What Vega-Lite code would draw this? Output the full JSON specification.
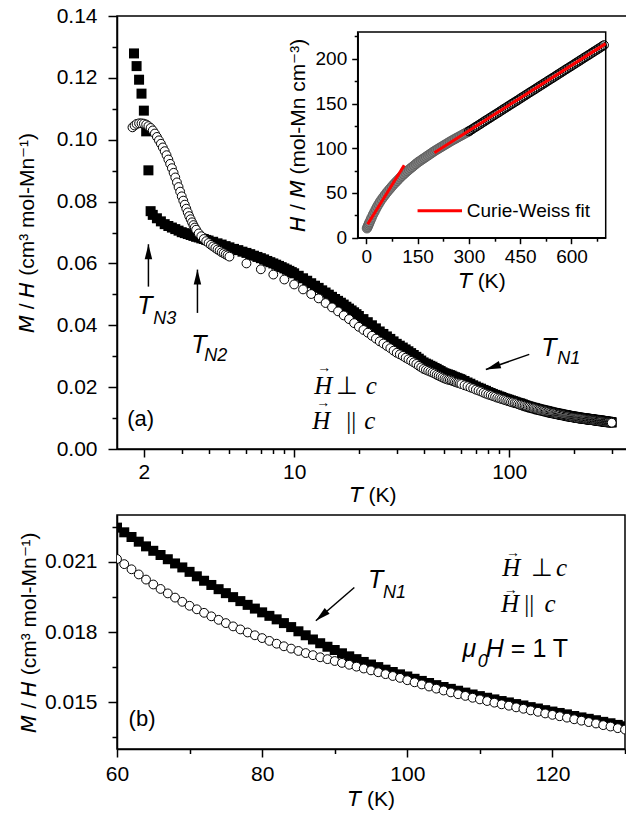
{
  "$schema": "https://vega.github.io/schema/vega-lite/v6.json",
  "background": "white",
  "padding": {"left": 15, "top": 4, "right": 0, "bottom": 0},
  "config": {
    "font": "Liberation Sans",
    "view": {"stroke": "black", "strokeWidth": 1.5},
    "axis": {
      "grid": false, "domainColor": "black", "domainWidth": 1.5, "tickColor": "black", "tickWidth": 1.5,
      "labelColor": "black", "titleColor": "black", "labelFont": "Liberation Sans", "titleFont": "Liberation Sans",
      "labelFontSize": 21, "titleFontSize": 21, "titleFontWeight": "normal", "labelFlush": false, "labelOverlap": false,
      "tickCount": 200
    }
  },
  "datasets": {
    "perp_a": [
      {"T":1.8,"v":0.1279},{"T":1.85,"v":0.1238},{"T":1.9,"v":0.1194},{"T":1.95,"v":0.1149},{"T":2.0,"v":0.1094},{"T":2.05,"v":0.1027},{"T":2.1,"v":0.0901},{"T":2.15,"v":0.0769},
      {"T":2.2,"v":0.0757},{"T":2.3,"v":0.0746},{"T":2.4,"v":0.0736},{"T":2.5,"v":0.0727},{"T":2.6,"v":0.0721},{"T":2.7,"v":0.0716},{"T":2.8,"v":0.0711},{"T":2.9,"v":0.0706},{"T":3.0,"v":0.0701},{"T":3.1,"v":0.0698},{"T":3.2,"v":0.0695},{"T":3.3,"v":0.0692},{"T":3.4,"v":0.0689},{"T":3.5,"v":0.0686},{"T":3.6,"v":0.0684},{"T":3.7,"v":0.0681},{"T":3.8,"v":0.0679},{"T":3.9,"v":0.0676},{"T":4.0,"v":0.0674},{"T":4.2,"v":0.067},{"T":4.4,"v":0.0665},{"T":4.6,"v":0.0661},{"T":4.8,"v":0.0656},
      {"T":5.0,"v":0.0652},{"T":5.25,"v":0.0647},{"T":5.5,"v":0.0643},{"T":5.75,"v":0.0638},{"T":6.0,"v":0.0634},{"T":6.25,"v":0.063},{"T":6.5,"v":0.0625},{"T":6.75,"v":0.0621},{"T":7.0,"v":0.0617},{"T":7.25,"v":0.0613},{"T":7.5,"v":0.0608},{"T":7.75,"v":0.0604},{"T":8.0,"v":0.06},{"T":8.25,"v":0.0596},{"T":8.5,"v":0.0592},{"T":8.75,"v":0.0588},{"T":9.0,"v":0.0584},{"T":9.25,"v":0.058},{"T":9.5,"v":0.0576},{"T":9.75,"v":0.0572},
      {"T":10,"v":0.0568},{"T":10.5,"v":0.056},{"T":11,"v":0.0552},{"T":11.5,"v":0.0544},{"T":12,"v":0.0536},{"T":12.5,"v":0.0528},{"T":13,"v":0.0521},{"T":13.5,"v":0.0513},{"T":14,"v":0.0506},{"T":14.5,"v":0.0499},{"T":15,"v":0.0492},{"T":15.5,"v":0.0485},{"T":16,"v":0.0479},{"T":16.5,"v":0.0473},{"T":17,"v":0.0467},{"T":17.5,"v":0.046},{"T":18,"v":0.0454},{"T":18.5,"v":0.0448},{"T":19,"v":0.0442},{"T":19.5,"v":0.0436},
      {"T":20,"v":0.043},{"T":21,"v":0.042},{"T":22,"v":0.041},{"T":23,"v":0.04},{"T":24,"v":0.039},{"T":25,"v":0.038},{"T":26,"v":0.0372},{"T":27,"v":0.0364},{"T":28,"v":0.0356},{"T":29,"v":0.0348},{"T":30,"v":0.034},{"T":31,"v":0.0334},{"T":32,"v":0.0328},{"T":33,"v":0.0322},{"T":34,"v":0.0316},{"T":35,"v":0.031},{"T":36,"v":0.0304},{"T":37,"v":0.0298},{"T":38,"v":0.0292},{"T":39,"v":0.0286},{"T":40,"v":0.028},{"T":41,"v":0.0276},{"T":42,"v":0.0273},{"T":43,"v":0.0269},{"T":44,"v":0.0266},{"T":45,"v":0.0262},{"T":46,"v":0.0259},{"T":47,"v":0.0255},{"T":48,"v":0.0252},{"T":49,"v":0.0248},{"T":50,"v":0.0245},{"T":51,"v":0.0243},{"T":52,"v":0.0241},{"T":53,"v":0.0239},{"T":54,"v":0.0237},{"T":55,"v":0.0234},{"T":56,"v":0.0232},{"T":57,"v":0.023},{"T":58,"v":0.0228},{"T":59,"v":0.0226},{"T":60,"v":0.0224},
      {"T":62,"v":0.022},{"T":64,"v":0.0215},{"T":66,"v":0.0211},{"T":68,"v":0.0206},{"T":70,"v":0.0202},{"T":72,"v":0.0198},{"T":74,"v":0.0195},{"T":76,"v":0.0191},{"T":78,"v":0.0188},{"T":80,"v":0.0184},{"T":82,"v":0.0181},{"T":84,"v":0.0178},{"T":86,"v":0.0175},{"T":88,"v":0.0173},{"T":90,"v":0.017},{"T":92,"v":0.0168},{"T":94,"v":0.0165},{"T":96,"v":0.0163},{"T":98,"v":0.0161},{"T":100,"v":0.0159},{"T":102,"v":0.0157},{"T":104,"v":0.0155},{"T":106,"v":0.0153},{"T":108,"v":0.0151},{"T":110,"v":0.0149},{"T":112,"v":0.0148},{"T":114,"v":0.0146},{"T":116,"v":0.0144},{"T":118,"v":0.0142},{"T":120,"v":0.014},
      {"T":122,"v":0.01385},{"T":124,"v":0.0137},{"T":126,"v":0.01355},{"T":128,"v":0.0134},{"T":130,"v":0.0133},{"T":132,"v":0.0132},{"T":134,"v":0.01305},{"T":136,"v":0.0129},{"T":138,"v":0.0128},{"T":140,"v":0.0127},{"T":142,"v":0.0126},{"T":144,"v":0.0125},{"T":146,"v":0.0124},{"T":148,"v":0.0123},{"T":150,"v":0.0122},{"T":152,"v":0.0121},{"T":154,"v":0.012},{"T":156,"v":0.0119},{"T":158,"v":0.0118},{"T":160,"v":0.0117},{"T":162,"v":0.01165},{"T":164,"v":0.0116},{"T":166,"v":0.0115},{"T":168,"v":0.0114},{"T":170,"v":0.01135},{"T":172,"v":0.0113},{"T":174,"v":0.0112},{"T":176,"v":0.0111},{"T":178,"v":0.01105},{"T":180,"v":0.011},{"T":182,"v":0.01095},{"T":184,"v":0.0109},{"T":186,"v":0.0108},{"T":188,"v":0.0107},{"T":190,"v":0.01065},{"T":192,"v":0.0106},{"T":194,"v":0.01055},{"T":196,"v":0.0105},{"T":198,"v":0.01045},{"T":200,"v":0.0104},
      {"T":202,"v":0.01035},{"T":204,"v":0.0103},{"T":206,"v":0.01025},{"T":208,"v":0.0102},{"T":210,"v":0.01015},{"T":212,"v":0.0101},{"T":214,"v":0.01005},{"T":216,"v":0.01},{"T":218,"v":0.00995},{"T":220,"v":0.0099},{"T":222,"v":0.0099},{"T":224,"v":0.0099},{"T":226,"v":0.00985},{"T":228,"v":0.0098},{"T":230,"v":0.00975},{"T":232,"v":0.0097},{"T":234,"v":0.00965},{"T":236,"v":0.0096},{"T":238,"v":0.0096},{"T":240,"v":0.0096},{"T":242,"v":0.00955},{"T":244,"v":0.0095},{"T":246,"v":0.00945},{"T":248,"v":0.0094},{"T":250,"v":0.0094},{"T":252,"v":0.0094},{"T":254,"v":0.00935},{"T":256,"v":0.0093},{"T":258,"v":0.00925},{"T":260,"v":0.0092},{"T":262,"v":0.0092},{"T":264,"v":0.0092},{"T":266,"v":0.00915},{"T":268,"v":0.0091},{"T":270,"v":0.00905},{"T":272,"v":0.009},{"T":274,"v":0.009},{"T":276,"v":0.009},{"T":278,"v":0.00895},{"T":280,"v":0.0089},{"T":282,"v":0.00885},{"T":284,"v":0.0088},{"T":286,"v":0.0088},{"T":288,"v":0.0088},{"T":290,"v":0.00875},{"T":292,"v":0.0087},{"T":294,"v":0.0087},{"T":296,"v":0.0087},{"T":298,"v":0.00865},{"T":300,"v":0.0086}
    ],
    "par_a": [
      {"T":1.77,"v":0.104},{"T":1.81,"v":0.1046},{"T":1.85,"v":0.1051},{"T":1.9,"v":0.1053},{"T":1.95,"v":0.1053},{"T":2.0,"v":0.1052},{"T":2.05,"v":0.1049},{"T":2.1,"v":0.1044},{"T":2.15,"v":0.1038},{"T":2.2,"v":0.103},{"T":2.25,"v":0.102},{"T":2.3,"v":0.1009},{"T":2.35,"v":0.0998},{"T":2.4,"v":0.0987},{"T":2.45,"v":0.0975},{"T":2.5,"v":0.0963},{"T":2.55,"v":0.095},{"T":2.6,"v":0.0936},{"T":2.65,"v":0.0922},{"T":2.7,"v":0.0908},{"T":2.75,"v":0.0893},{"T":2.8,"v":0.0878},{"T":2.85,"v":0.0862},{"T":2.9,"v":0.0847},{"T":2.95,"v":0.0832},{"T":3.0,"v":0.0817},{"T":3.05,"v":0.0803},{"T":3.1,"v":0.079},{"T":3.15,"v":0.0777},{"T":3.2,"v":0.0765},{"T":3.25,"v":0.0753},{"T":3.3,"v":0.0743},{"T":3.35,"v":0.0733},{"T":3.4,"v":0.0724},{"T":3.45,"v":0.0716},{"T":3.5,"v":0.0709},{"T":3.6,"v":0.0697},{"T":3.7,"v":0.0688},{"T":3.8,"v":0.0679},{"T":3.9,"v":0.0672},{"T":4.0,"v":0.0666},{"T":4.1,"v":0.066},{"T":4.2,"v":0.0655},{"T":4.3,"v":0.065},{"T":4.4,"v":0.0645},{"T":4.5,"v":0.0641},{"T":4.6,"v":0.0636},{"T":4.7,"v":0.0633},{"T":4.8,"v":0.0629},{"T":4.9,"v":0.0626},{"T":5.0,"v":0.0622},
      {"T":6,"v":0.06},{"T":7,"v":0.0581},{"T":8,"v":0.0564},{"T":9,"v":0.0548},{"T":10,"v":0.0532},{"T":11,"v":0.0516},{"T":12,"v":0.0501},{"T":13,"v":0.0487},{"T":14,"v":0.0472},{"T":15,"v":0.0458},{"T":16,"v":0.0445},{"T":17,"v":0.0432},{"T":18,"v":0.042},{"T":19,"v":0.0407},{"T":20,"v":0.0395},{"T":21,"v":0.0385},{"T":22,"v":0.0376},{"T":23,"v":0.0366},{"T":24,"v":0.0357},{"T":25,"v":0.0348},{"T":26,"v":0.0341},{"T":27,"v":0.0333},{"T":28,"v":0.0326},{"T":29,"v":0.0318},{"T":30,"v":0.0311},{"T":31,"v":0.0306},{"T":32,"v":0.0301},{"T":33,"v":0.0295},{"T":34,"v":0.029},{"T":35,"v":0.0285},{"T":36,"v":0.028},{"T":37,"v":0.0275},{"T":38,"v":0.0269},{"T":39,"v":0.0264},{"T":40,"v":0.0259},{"T":41,"v":0.0256},{"T":42,"v":0.0253},{"T":43,"v":0.025},{"T":44,"v":0.0247},{"T":45,"v":0.0244},{"T":46,"v":0.024},{"T":47,"v":0.0237},{"T":48,"v":0.0234},{"T":49,"v":0.0231},{"T":50,"v":0.0228},{"T":51,"v":0.0226},{"T":52,"v":0.0224},{"T":53,"v":0.0223},{"T":54,"v":0.0221},{"T":55,"v":0.0219},{"T":56,"v":0.0217},{"T":57,"v":0.0215},{"T":58,"v":0.0214},{"T":59,"v":0.0212},{"T":60,"v":0.021},
      {"T":62,"v":0.0206},{"T":64,"v":0.0203},{"T":66,"v":0.0199},{"T":68,"v":0.0196},{"T":70,"v":0.0192},{"T":72,"v":0.0189},{"T":74,"v":0.0186},{"T":76,"v":0.0182},{"T":78,"v":0.0179},{"T":80,"v":0.0176},{"T":82,"v":0.0174},{"T":84,"v":0.0171},{"T":86,"v":0.0169},{"T":88,"v":0.0166},{"T":90,"v":0.0164},{"T":92,"v":0.0162},{"T":94,"v":0.016},{"T":96,"v":0.0158},{"T":98,"v":0.0156},{"T":100,"v":0.0154},{"T":102,"v":0.0152},{"T":104,"v":0.0151},{"T":106,"v":0.0149},{"T":108,"v":0.0148},{"T":110,"v":0.0146},{"T":112,"v":0.0144},{"T":114,"v":0.0143},{"T":116,"v":0.0141},{"T":118,"v":0.014},{"T":120,"v":0.0138},
      {"T":122,"v":0.0137},{"T":124,"v":0.0136},{"T":126,"v":0.01345},{"T":128,"v":0.0133},{"T":130,"v":0.0132},{"T":132,"v":0.0131},{"T":134,"v":0.01295},{"T":136,"v":0.0128},{"T":138,"v":0.0127},{"T":140,"v":0.0126},{"T":142,"v":0.0125},{"T":144,"v":0.0124},{"T":146,"v":0.0123},{"T":148,"v":0.0122},{"T":150,"v":0.0121},{"T":152,"v":0.012},{"T":154,"v":0.0119},{"T":156,"v":0.0118},{"T":158,"v":0.0117},{"T":160,"v":0.0116},{"T":162,"v":0.01155},{"T":164,"v":0.0115},{"T":166,"v":0.0114},{"T":168,"v":0.0113},{"T":170,"v":0.01125},{"T":172,"v":0.0112},{"T":174,"v":0.0111},{"T":176,"v":0.011},{"T":178,"v":0.01095},{"T":180,"v":0.0109},{"T":182,"v":0.0108},{"T":184,"v":0.0107},{"T":186,"v":0.01065},{"T":188,"v":0.0106},{"T":190,"v":0.01055},{"T":192,"v":0.0105},{"T":194,"v":0.0104},{"T":196,"v":0.0103},{"T":198,"v":0.01025},{"T":200,"v":0.0102},
      {"T":202,"v":0.01015},{"T":204,"v":0.0101},{"T":206,"v":0.01005},{"T":208,"v":0.01},{"T":210,"v":0.00995},{"T":212,"v":0.0099},{"T":214,"v":0.0099},{"T":216,"v":0.0099},{"T":218,"v":0.00985},{"T":220,"v":0.0098},{"T":222,"v":0.00975},{"T":224,"v":0.0097},{"T":226,"v":0.00965},{"T":228,"v":0.0096},{"T":230,"v":0.00955},{"T":232,"v":0.0095},{"T":234,"v":0.0095},{"T":236,"v":0.0095},{"T":238,"v":0.00945},{"T":240,"v":0.0094},{"T":242,"v":0.00935},{"T":244,"v":0.0093},{"T":246,"v":0.0093},{"T":248,"v":0.0093},{"T":250,"v":0.00925},{"T":252,"v":0.0092},{"T":254,"v":0.0092},{"T":256,"v":0.0092},{"T":258,"v":0.00915},{"T":260,"v":0.0091},{"T":262,"v":0.00905},{"T":264,"v":0.009},{"T":266,"v":0.009},{"T":268,"v":0.009},{"T":270,"v":0.00895},{"T":272,"v":0.0089},{"T":274,"v":0.0089},{"T":276,"v":0.0089},{"T":278,"v":0.00885},{"T":280,"v":0.0088},{"T":282,"v":0.00875},{"T":284,"v":0.0087},{"T":286,"v":0.0087},{"T":288,"v":0.0087},{"T":290,"v":0.00865},{"T":292,"v":0.0086},{"T":294,"v":0.0086},{"T":296,"v":0.0086},{"T":298,"v":0.00855},{"T":300,"v":0.0085}
    ],
    "inv_low": [
      {"T":2,"v":10.5},{"T":4,"v":12.2},{"T":6,"v":14.0},{"T":8,"v":15.8},{"T":10,"v":17.5},{"T":13,"v":20.1},{"T":16,"v":22.7},{"T":20,"v":26.0},{"T":24,"v":29.0},{"T":28,"v":32.0},{"T":32,"v":34.8},{"T":36,"v":37.4},{"T":40,"v":40.0},{"T":45,"v":42.8},{"T":50,"v":45.5},{"T":55,"v":48.0},{"T":60,"v":50.5},{"T":65,"v":52.8},{"T":70,"v":55.0},{"T":75,"v":57.3},{"T":80,"v":59.5},{"T":85,"v":61.5},{"T":90,"v":63.5},{"T":95,"v":65.5},{"T":100,"v":67.5},{"T":105,"v":69.3},{"T":110,"v":71.0},{"T":115,"v":72.8},{"T":120,"v":74.5},{"T":125,"v":76.1},{"T":130,"v":77.7},{"T":135,"v":79.2},{"T":140,"v":80.8},{"T":145,"v":82.4},{"T":150,"v":84.0},{"T":155,"v":85.3},{"T":160,"v":86.6},{"T":165,"v":87.9},{"T":170,"v":89.2},{"T":175,"v":90.5},{"T":180,"v":91.8},{"T":185,"v":93.1},{"T":190,"v":94.4},{"T":195,"v":95.7},{"T":200,"v":97.0},{"T":205,"v":98.2},{"T":210,"v":99.3},{"T":215,"v":100.5},{"T":220,"v":101.6},{"T":225,"v":102.8},{"T":230,"v":103.9},{"T":235,"v":105.1},{"T":240,"v":106.2},{"T":245,"v":107.4},{"T":250,"v":108.5},{"T":255,"v":109.6},{"T":260,"v":110.6},{"T":265,"v":111.7},{"T":270,"v":112.7},{"T":275,"v":113.8},{"T":280,"v":114.8},{"T":285,"v":115.9},{"T":290,"v":116.9},{"T":295,"v":118.0},{"T":300,"v":119.0}
    ],
    "inv_high": [
      {"T":300,"v":119.0},{"T":305,"v":120.2},{"T":310,"v":121.4},{"T":315,"v":122.7},{"T":320,"v":123.9},{"T":325,"v":125.1},{"T":330,"v":126.3},{"T":335,"v":127.5},{"T":340,"v":128.8},{"T":345,"v":130.0},{"T":350,"v":131.2},{"T":355,"v":132.4},{"T":360,"v":133.6},{"T":365,"v":134.8},{"T":370,"v":136.1},{"T":375,"v":137.3},{"T":380,"v":138.5},{"T":385,"v":139.7},{"T":390,"v":140.9},{"T":395,"v":142.2},{"T":400,"v":143.4},{"T":405,"v":144.6},{"T":410,"v":145.8},{"T":415,"v":147.0},{"T":420,"v":148.3},{"T":425,"v":149.5},{"T":430,"v":150.7},{"T":435,"v":151.9},{"T":440,"v":153.1},{"T":445,"v":154.3},{"T":450,"v":155.6},{"T":455,"v":156.8},{"T":460,"v":158.0},{"T":465,"v":159.2},{"T":470,"v":160.4},{"T":475,"v":161.7},{"T":480,"v":162.9},{"T":485,"v":164.1},{"T":490,"v":165.3},{"T":495,"v":166.5},{"T":500,"v":167.8},{"T":505,"v":169.0},{"T":510,"v":170.2},{"T":515,"v":171.4},{"T":520,"v":172.6},{"T":525,"v":173.8},{"T":530,"v":175.1},{"T":535,"v":176.3},{"T":540,"v":177.5},{"T":545,"v":178.7},{"T":550,"v":179.9},{"T":555,"v":181.2},{"T":560,"v":182.4},{"T":565,"v":183.6},{"T":570,"v":184.8},{"T":575,"v":186.0},{"T":580,"v":187.3},{"T":585,"v":188.5},{"T":590,"v":189.7},{"T":595,"v":190.9},{"T":600,"v":192.1},{"T":605,"v":193.3},{"T":610,"v":194.6},{"T":615,"v":195.8},{"T":620,"v":197.0},{"T":625,"v":198.2},{"T":630,"v":199.4},{"T":635,"v":200.7},{"T":640,"v":201.9},{"T":645,"v":203.1},{"T":650,"v":204.3},{"T":655,"v":205.5},{"T":660,"v":206.8},{"T":665,"v":208.0},{"T":670,"v":209.2},{"T":675,"v":210.4},{"T":680,"v":211.6},{"T":685,"v":212.8},{"T":690,"v":214.1},{"T":695,"v":215.3}
    ],
    "cw": [
      {"seg":"low","T":4,"v":15},{"seg":"low","T":111,"v":81},
      {"seg":"high","T":199,"v":95},{"seg":"high","T":700,"v":217},
      {"seg":"key","T":150,"v":30},{"seg":"key","T":280,"v":30}
    ],
    "arrows_a": [
      {"id":"n3","T":2.1,"v":0.0525,"T2":2.1,"v2":0.0662},
      {"id":"n2","T":3.55,"v":0.044,"T2":3.55,"v2":0.058},
      {"id":"n1","T":124,"v":0.0306,"T2":77.9,"v2":0.0257}
    ],
    "notes_a": [
      {"kind":"Tbig","txt":"T","T":1.861,"v":0.0436},
      {"kind":"sub","txt":"N3","T":2.209,"v":0.0404},
      {"kind":"Tbig","txt":"T","T":3.32,"v":0.031},
      {"kind":"sub","txt":"N2","T":3.815,"v":0.0284},
      {"kind":"Tbig","txt":"T","T":140.9,"v":0.03},
      {"kind":"sub","txt":"N1","T":167.2,"v":0.0275},
      {"kind":"lab","txt":"(a)","T":1.672,"v":0.0074},
      {"kind":"si","txt":"H","T":12.39,"v":0.0178},
      {"kind":"sr","txt":"⊥","T":15.68,"v":0.0178},
      {"kind":"si","txt":"c","T":21.55,"v":0.0178},
      {"kind":"si","txt":"H","T":12.13,"v":0.0065},
      {"kind":"sr","txt":"||","T":17.46,"v":0.0065},
      {"kind":"si","txt":"c","T":21.2,"v":0.0065},
      {"kind":"vec","txt":"→","T":12.8,"v":0.0263},
      {"kind":"vec","txt":"→","T":12.66,"v":0.015}
    ],
    "perp_b": [
      {"T":60,"v":0.02246},{"T":61,"v":0.02226},{"T":62,"v":0.02206},{"T":63,"v":0.02186},{"T":64,"v":0.02166},{"T":65,"v":0.02147},{"T":66,"v":0.02129},{"T":67,"v":0.02111},{"T":68,"v":0.02093},{"T":69,"v":0.02076},{"T":70,"v":0.02057},{"T":71,"v":0.02038},{"T":72,"v":0.02019},{"T":73,"v":0.02001},{"T":74,"v":0.01983},{"T":75,"v":0.01966},{"T":76,"v":0.01949},{"T":77,"v":0.01932},{"T":78,"v":0.01916},{"T":79,"v":0.019},{"T":80,"v":0.01884},{"T":81,"v":0.01869},{"T":82,"v":0.01854},{"T":83,"v":0.01838},{"T":84,"v":0.01821},{"T":85,"v":0.01803},{"T":86,"v":0.01786},{"T":87,"v":0.01768},{"T":88,"v":0.01752},{"T":89,"v":0.01737},{"T":90,"v":0.01723},{"T":91,"v":0.01709},{"T":92,"v":0.01696},{"T":93,"v":0.01684},{"T":94,"v":0.01672},{"T":95,"v":0.01661},{"T":96,"v":0.0165},{"T":97,"v":0.01639},{"T":98,"v":0.01629},{"T":99,"v":0.01619},{"T":100,"v":0.0161},
      {"T":101,"v":0.016},{"T":102,"v":0.01591},{"T":103,"v":0.01582},{"T":104,"v":0.01573},{"T":105,"v":0.01565},{"T":106,"v":0.01557},{"T":107,"v":0.01549},{"T":108,"v":0.01541},{"T":109,"v":0.01533},{"T":110,"v":0.01526},{"T":111,"v":0.01519},{"T":112,"v":0.01512},{"T":113,"v":0.01505},{"T":114,"v":0.01499},{"T":115,"v":0.01492},{"T":116,"v":0.01486},{"T":117,"v":0.01479},{"T":118,"v":0.01473},{"T":119,"v":0.01466},{"T":120,"v":0.0146},{"T":121,"v":0.01454},{"T":122,"v":0.01448},{"T":123,"v":0.01441},{"T":124,"v":0.01435},{"T":125,"v":0.01429},{"T":126,"v":0.01423},{"T":127,"v":0.01416},{"T":128,"v":0.0141},{"T":129,"v":0.01403},{"T":130,"v":0.01397}
    ],
    "par_b": [
      {"T":60,"v":0.02112},{"T":61,"v":0.0209},{"T":62,"v":0.02068},{"T":63,"v":0.02046},{"T":64,"v":0.02024},{"T":65,"v":0.02003},{"T":66,"v":0.01984},{"T":67,"v":0.01965},{"T":68,"v":0.01947},{"T":69,"v":0.01929},{"T":70,"v":0.01912},{"T":71,"v":0.01897},{"T":72,"v":0.01882},{"T":73,"v":0.01867},{"T":74,"v":0.01852},{"T":75,"v":0.01838},{"T":76,"v":0.01824},{"T":77,"v":0.01811},{"T":78,"v":0.01798},{"T":79,"v":0.01786},{"T":80,"v":0.01774},{"T":81,"v":0.01762},{"T":82,"v":0.0175},{"T":83,"v":0.01739},{"T":84,"v":0.01729},{"T":85,"v":0.01719},{"T":86,"v":0.0171},{"T":87,"v":0.01701},{"T":88,"v":0.01692},{"T":89,"v":0.01684},{"T":90,"v":0.01676},{"T":91,"v":0.01668},{"T":92,"v":0.0166},{"T":93,"v":0.01652},{"T":94,"v":0.01644},{"T":95,"v":0.01636},{"T":96,"v":0.01628},{"T":97,"v":0.0162},{"T":98,"v":0.01612},{"T":99,"v":0.01604},{"T":100,"v":0.01594},
      {"T":101,"v":0.01585},{"T":102,"v":0.01576},{"T":103,"v":0.01567},{"T":104,"v":0.01558},{"T":105,"v":0.0155},{"T":106,"v":0.01542},{"T":107,"v":0.01534},{"T":108,"v":0.01527},{"T":109,"v":0.01519},{"T":110,"v":0.01512},{"T":111,"v":0.01505},{"T":112,"v":0.01498},{"T":113,"v":0.01491},{"T":114,"v":0.01485},{"T":115,"v":0.01478},{"T":116,"v":0.01472},{"T":117,"v":0.01465},{"T":118,"v":0.01459},{"T":119,"v":0.01452},{"T":120,"v":0.01446},{"T":121,"v":0.0144},{"T":122,"v":0.01434},{"T":123,"v":0.01427},{"T":124,"v":0.01421},{"T":125,"v":0.01415},{"T":126,"v":0.01409},{"T":127,"v":0.01402},{"T":128,"v":0.01396},{"T":129,"v":0.01389},{"T":130,"v":0.01383}
    ],
    "arrows_b": [
      {"id":"b1","T":92.7,"v":0.0199,"T2":87.4,"v2":0.01848}
    ],
    "notes_b": [
      {"kind":"Tbig","txt":"T","T":94.6,"v":0.01989},
      {"kind":"sub","txt":"N1","T":96.65,"v":0.01946},
      {"kind":"lab","txt":"(b)","T":61.6,"v":0.014},
      {"kind":"si","txt":"H","T":113.1,"v":0.0204},
      {"kind":"sr","txt":"⊥","T":117.0,"v":0.0204},
      {"kind":"si","txt":"c","T":120.5,"v":0.0204},
      {"kind":"si","txt":"H","T":112.9,"v":0.01884},
      {"kind":"sr","txt":"||","T":116.1,"v":0.01884},
      {"kind":"si","txt":"c","T":118.9,"v":0.01884},
      {"kind":"vec","txt":"→","T":113.6,"v":0.02137},
      {"kind":"vec","txt":"→","T":113.3,"v":0.01981},
      {"kind":"Tbig","txt":"μ","T":107.6,"v":0.01692},
      {"kind":"sub","txt":"0","T":109.7,"v":0.01652},
      {"kind":"Tbig","txt":"H","T":110.8,"v":0.01692},
      {"kind":"big","txt":"= 1 T","T":114.27,"v":0.01692}
    ]
  },
  "spacing": 66,
  "bounds": "flush",
  "vconcat": [
    {
      "width": 511,
      "height": 433,
      "layer": [
        {
          "layer": [
            {
              "data": {"name": "perp_a"},
              "mark": {"type": "point", "shape": "square", "filled": true, "color": "black", "size": 100, "opacity": 1},
              "encoding": {
                "x": {"field": "T", "type": "quantitative", "scale": {"type": "log", "domain": [1.5, 357], "nice": false},
                  "axis": {"orient": "bottom", "values": [2,3,4,5,6,7,8,9,10,20,30,40,50,60,70,80,90,100,200,300],
                    "labelExpr": "datum.value == 2 || datum.value == 10 || datum.value == 100 ? '' + datum.value : ''",
                    "tickSize": {"condition": {"test": "datum.value == 2 || datum.value == 10 || datum.value == 100", "value": 8}, "value": 4.5},
                    "labelPadding": 4, "title": "𝘛 (K)", "titlePadding": 2}},
                "y": {"field": "v", "type": "quantitative", "scale": {"domain": [0, 0.14], "nice": false},
                  "axis": {"orient": "left", "values": [0,0.01,0.02,0.03,0.04,0.05,0.06,0.07,0.08,0.09,0.1,0.11,0.12,0.13,0.14],
                    "labelExpr": "round(datum.value*100) % 2 == 0 ? format(datum.value, '.2f') : ''",
                    "tickSize": {"condition": {"test": "round(datum.value*100) % 2 == 0", "value": 9}, "value": 5},
                    "labelPadding": 11, "title": "𝘔 / 𝘏 (cm³ mol-Mn⁻¹)", "titlePadding": 19}}
              }
            },
            {
              "data": {"name": "par_a"},
              "mark": {"type": "point", "shape": "circle", "filled": true, "fill": "white", "stroke": "black", "strokeWidth": 1, "size": 78, "opacity": 1},
              "encoding": {"x": {"field": "T", "type": "quantitative"}, "y": {"field": "v", "type": "quantitative"}}
            },
            {
              "data": {"name": "arrows_a"},
              "mark": {"type": "rule", "color": "black", "strokeWidth": 1.5},
              "encoding": {"x": {"field": "T", "type": "quantitative"}, "y": {"field": "v", "type": "quantitative"}, "x2": {"field": "T2"}, "y2": {"field": "v2"}}
            },
            {
              "data": {"name": "arrows_a"},
              "transform": [{"filter": "datum.id != 'n1'"}],
              "mark": {"type": "point", "shape": "M0,0L0.5,2L-0.5,2Z", "filled": true, "color": "black", "size": 225, "opacity": 1},
              "encoding": {"x": {"field": "T2", "type": "quantitative"}, "y": {"field": "v2", "type": "quantitative"}}
            },
            {
              "data": {"name": "arrows_a"},
              "transform": [{"filter": "datum.id == 'n1'"}],
              "mark": {"type": "point", "shape": "M0,0L0.5,2L-0.5,2Z", "filled": true, "color": "black", "size": 225, "opacity": 1, "angle": 251},
              "encoding": {"x": {"field": "T2", "type": "quantitative"}, "y": {"field": "v2", "type": "quantitative"}}
            },
            {
              "data": {"name": "notes_a"},
              "transform": [{"filter": "datum.kind == 'Tbig'"}],
              "mark": {"type": "text", "font": "Liberation Sans", "fontStyle": "italic", "fontSize": 25, "align": "left", "baseline": "alphabetic", "color": "black"},
              "encoding": {"x": {"field": "T", "type": "quantitative"}, "y": {"field": "v", "type": "quantitative"}, "text": {"field": "txt"}}
            },
            {
              "data": {"name": "notes_a"},
              "transform": [{"filter": "datum.kind == 'sub'"}],
              "mark": {"type": "text", "font": "Liberation Sans", "fontStyle": "italic", "fontSize": 18, "align": "left", "baseline": "alphabetic", "color": "black"},
              "encoding": {"x": {"field": "T", "type": "quantitative"}, "y": {"field": "v", "type": "quantitative"}, "text": {"field": "txt"}}
            },
            {
              "data": {"name": "notes_a"},
              "transform": [{"filter": "datum.kind == 'lab'"}],
              "mark": {"type": "text", "font": "Liberation Sans", "fontSize": 22, "align": "left", "baseline": "alphabetic", "color": "black"},
              "encoding": {"x": {"field": "T", "type": "quantitative"}, "y": {"field": "v", "type": "quantitative"}, "text": {"field": "txt"}}
            },
            {
              "data": {"name": "notes_a"},
              "transform": [{"filter": "datum.kind == 'si'"}],
              "mark": {"type": "text", "font": "Liberation Serif", "fontStyle": "italic", "fontSize": 25, "align": "left", "baseline": "alphabetic", "color": "black"},
              "encoding": {"x": {"field": "T", "type": "quantitative"}, "y": {"field": "v", "type": "quantitative"}, "text": {"field": "txt"}}
            },
            {
              "data": {"name": "notes_a"},
              "transform": [{"filter": "datum.kind == 'sr'"}],
              "mark": {"type": "text", "font": "Liberation Serif", "fontSize": 25, "align": "left", "baseline": "alphabetic", "color": "black"},
              "encoding": {"x": {"field": "T", "type": "quantitative"}, "y": {"field": "v", "type": "quantitative"}, "text": {"field": "txt"}}
            },
            {
              "data": {"name": "notes_a"},
              "transform": [{"filter": "datum.kind == 'vec'"}],
              "mark": {"type": "text", "font": "Liberation Sans", "fontSize": 14, "align": "left", "baseline": "middle", "color": "black"},
              "encoding": {"x": {"field": "T", "type": "quantitative"}, "y": {"field": "v", "type": "quantitative"}, "text": {"field": "txt"}}
            }
          ]
        },
        {
          "layer": [
            {
              "data": {"values": [{"x0": -25, "x1": 700, "y0": 0, "y1": 230}]},
              "mark": {"type": "rect", "filled": false, "color": "black", "strokeWidth": 1.5},
              "encoding": {
                "x": {"field": "x0", "type": "quantitative", "scale": {"domain": [-25, 700], "range": [240.7, 488.7], "nice": false, "zero": false},
                  "axis": {"orient": "bottom", "offset": -211.3, "values": [0,75,150,225,300,375,450,525,600,675],
                    "labelExpr": "datum.value % 150 == 0 ? '' + datum.value : ''",
                    "tickSize": {"condition": {"test": "datum.value % 150 == 0", "value": 6}, "value": 3.5},
                    "labelFontSize": 19, "labelPadding": 4, "title": "𝘛 (K)", "titleFontSize": 21, "titlePadding": 4}},
                "x2": {"field": "x1"},
                "y": {"field": "y0", "type": "quantitative", "scale": {"domain": [0, 230], "range": [221.7, 16], "nice": false},
                  "axis": {"orient": "left", "offset": -240.7, "values": [0,25,50,75,100,125,150,175,200,225],
                    "labelExpr": "datum.value % 50 == 0 ? '' + datum.value : ''",
                    "tickSize": {"condition": {"test": "datum.value % 50 == 0", "value": 6}, "value": 3.5},
                    "labelFontSize": 19, "labelPadding": 5, "title": "𝘏 / 𝘔 (mol-Mn cm⁻³)", "titleFontSize": 21, "titlePadding": 6}},
                "y2": {"field": "y1"}
              }
            },
            {
              "data": {"name": "inv_low"},
              "mark": {"type": "point", "shape": "circle", "filled": true, "fill": "#808080", "stroke": "#5a5a5a", "strokeWidth": 0.8, "size": 90, "opacity": 1},
              "encoding": {"x": {"field": "T", "type": "quantitative"}, "y": {"field": "v", "type": "quantitative"}}
            },
            {
              "data": {"name": "inv_high"},
              "mark": {"type": "point", "shape": "circle", "filled": false, "stroke": "black", "strokeWidth": 1, "size": 80, "opacity": 1},
              "encoding": {"x": {"field": "T", "type": "quantitative"}, "y": {"field": "v", "type": "quantitative"}}
            },
            {
              "data": {"name": "cw"},
              "mark": {"type": "line", "color": "#ff0000", "strokeWidth": 3},
              "encoding": {"x": {"field": "T", "type": "quantitative"}, "y": {"field": "v", "type": "quantitative"}, "detail": {"field": "seg"}}
            },
            {
              "data": {"values": [{"txt": "Curie-Weiss fit", "T": 294, "v": 30}]},
              "mark": {"type": "text", "font": "Liberation Sans", "fontSize": 19, "align": "left", "baseline": "middle", "color": "black"},
              "encoding": {"x": {"field": "T", "type": "quantitative"}, "y": {"field": "v", "type": "quantitative"}, "text": {"field": "txt"}}
            }
          ]
        }
      ],
      "resolve": {"scale": {"x": "independent", "y": "independent"}}
    },
    {
      "width": 508,
      "height": 234,
      "layer": [
        {
          "data": {"name": "perp_b"},
          "mark": {"type": "point", "shape": "square", "filled": true, "color": "black", "size": 100, "opacity": 1, "clip": true},
          "encoding": {
            "x": {"field": "T", "type": "quantitative", "scale": {"domain": [60, 130], "nice": false, "zero": false},
              "axis": {"orient": "bottom", "values": [60,70,80,90,100,110,120,130],
                "labelExpr": "datum.value % 20 == 0 ? '' + datum.value : ''",
                "tickSize": {"condition": {"test": "datum.value % 20 == 0", "value": 8}, "value": 4.5},
                "labelPadding": 6, "title": "𝘛 (K)", "titlePadding": 4}},
            "y": {"field": "v", "type": "quantitative", "scale": {"domain": [0.013, 0.023], "nice": false, "zero": false},
              "axis": {"orient": "left", "values": [0.0135,0.015,0.0165,0.018,0.0195,0.021,0.0225],
                "labelExpr": "round(datum.value*10000) % 30 == 0 ? format(datum.value, '.3f') : ''",
                "tickSize": {"condition": {"test": "round(datum.value*10000) % 30 == 0", "value": 9}, "value": 5},
                "labelPadding": 11, "title": "𝘔 / 𝘏 (cm³ mol-Mn⁻¹)", "titlePadding": 5}}
          }
        },
        {
          "data": {"name": "par_b"},
          "mark": {"type": "point", "shape": "circle", "filled": true, "fill": "white", "stroke": "black", "strokeWidth": 1, "size": 78, "opacity": 1, "clip": true},
          "encoding": {"x": {"field": "T", "type": "quantitative"}, "y": {"field": "v", "type": "quantitative"}}
        },
        {
          "data": {"name": "arrows_b"},
          "mark": {"type": "rule", "color": "black", "strokeWidth": 1.5},
          "encoding": {"x": {"field": "T", "type": "quantitative"}, "y": {"field": "v", "type": "quantitative"}, "x2": {"field": "T2"}, "y2": {"field": "v2"}}
        },
        {
          "data": {"name": "arrows_b"},
          "mark": {"type": "point", "shape": "M0,0L0.5,2L-0.5,2Z", "filled": true, "color": "black", "size": 225, "opacity": 1, "angle": 229},
          "encoding": {"x": {"field": "T2", "type": "quantitative"}, "y": {"field": "v2", "type": "quantitative"}}
        },
        {
          "data": {"name": "notes_b"},
          "transform": [{"filter": "datum.kind == 'Tbig'"}],
          "mark": {"type": "text", "font": "Liberation Sans", "fontStyle": "italic", "fontSize": 25, "align": "left", "baseline": "alphabetic", "color": "black"},
          "encoding": {"x": {"field": "T", "type": "quantitative"}, "y": {"field": "v", "type": "quantitative"}, "text": {"field": "txt"}}
        },
        {
          "data": {"name": "notes_b"},
          "transform": [{"filter": "datum.kind == 'sub'"}],
          "mark": {"type": "text", "font": "Liberation Sans", "fontStyle": "italic", "fontSize": 18, "align": "left", "baseline": "alphabetic", "color": "black"},
          "encoding": {"x": {"field": "T", "type": "quantitative"}, "y": {"field": "v", "type": "quantitative"}, "text": {"field": "txt"}}
        },
        {
          "data": {"name": "notes_b"},
          "transform": [{"filter": "datum.kind == 'big'"}],
          "mark": {"type": "text", "font": "Liberation Sans", "fontSize": 25, "align": "left", "baseline": "alphabetic", "color": "black"},
          "encoding": {"x": {"field": "T", "type": "quantitative"}, "y": {"field": "v", "type": "quantitative"}, "text": {"field": "txt"}}
        },
        {
          "data": {"name": "notes_b"},
          "transform": [{"filter": "datum.kind == 'lab'"}],
          "mark": {"type": "text", "font": "Liberation Sans", "fontSize": 22, "align": "left", "baseline": "alphabetic", "color": "black"},
          "encoding": {"x": {"field": "T", "type": "quantitative"}, "y": {"field": "v", "type": "quantitative"}, "text": {"field": "txt"}}
        },
        {
          "data": {"name": "notes_b"},
          "transform": [{"filter": "datum.kind == 'si'"}],
          "mark": {"type": "text", "font": "Liberation Serif", "fontStyle": "italic", "fontSize": 25, "align": "left", "baseline": "alphabetic", "color": "black"},
          "encoding": {"x": {"field": "T", "type": "quantitative"}, "y": {"field": "v", "type": "quantitative"}, "text": {"field": "txt"}}
        },
        {
          "data": {"name": "notes_b"},
          "transform": [{"filter": "datum.kind == 'sr'"}],
          "mark": {"type": "text", "font": "Liberation Serif", "fontSize": 25, "align": "left", "baseline": "alphabetic", "color": "black"},
          "encoding": {"x": {"field": "T", "type": "quantitative"}, "y": {"field": "v", "type": "quantitative"}, "text": {"field": "txt"}}
        },
        {
          "data": {"name": "notes_b"},
          "transform": [{"filter": "datum.kind == 'vec'"}],
          "mark": {"type": "text", "font": "Liberation Sans", "fontSize": 14, "align": "left", "baseline": "middle", "color": "black"},
          "encoding": {"x": {"field": "T", "type": "quantitative"}, "y": {"field": "v", "type": "quantitative"}, "text": {"field": "txt"}}
        }
      ]
    }
  ]
}
